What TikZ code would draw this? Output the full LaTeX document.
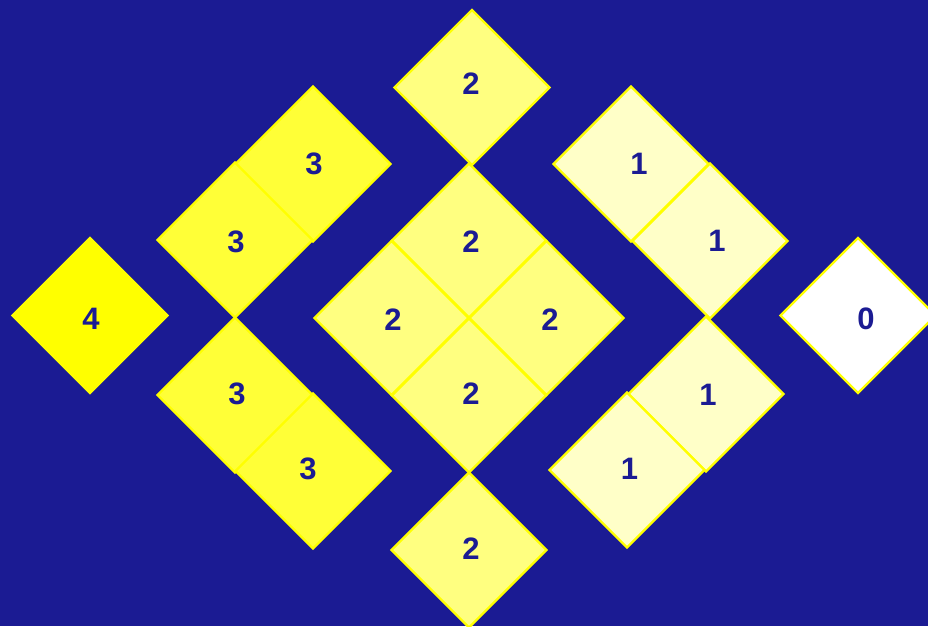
\documentclass[tikz,border=0pt]{standalone}
\usepackage{fontspec}
\setmainfont{Liberation Sans}
\usetikzlibrary{shapes.geometric}
\definecolor{navy}{RGB}{27,27,147}
\definecolor{ylw}{RGB}{255,255,0}
\definecolor{c3}{RGB}{255,255,55}
\definecolor{c2}{RGB}{255,255,128}
\definecolor{c1}{RGB}{255,255,200}
\tikzset{
  dia/.style={diamond, shape aspect=1, inner sep=0pt, outer sep=0pt,
    minimum width=155pt, minimum height=155pt, draw=ylw, line width=2.4pt},
  dsmall/.style={dia, minimum width=154pt, minimum height=154pt},
  num/.style={text=navy, font=\fontsize{31}{31}\selectfont\bfseries, inner sep=0pt}
}
\begin{document}
\begin{tikzpicture}[x=1pt,y=-1pt]
\fill[navy] (0,0) rectangle (928,626);
\useasboundingbox (0,0) rectangle (928,626);
% 4
\node[dia, fill=ylw] (d4) at (90,315.5) {};
% 3s
\node[dia, fill=c3] (d3a) at (313,164) {};
\node[dia, fill=c3] (d3b) at (235,240) {};
\node[dia, fill=c3] (d3c) at (235,395) {};
\node[dia, fill=c3] (d3d) at (313,471) {};
% 2s
\node[dia, fill=c2] (d2t) at (472,87.5) {};
\node[dia, fill=c2] (d2b) at (469,550) {};
\node[dsmall, fill=c2] (d2n) at (469,240.5) {};
\node[dsmall, fill=c2] (d2w) at (391.5,318) {};
\node[dsmall, fill=c2] (d2e) at (546.5,318) {};
\node[dsmall, fill=c2] (d2s) at (469,395.5) {};
% 1s
\node[dia, fill=c1] (d1a) at (631,164) {};
\node[dia, fill=c1] (d1b) at (710,241) {};
\node[dia, fill=c1] (d1c) at (706,394) {};
\node[dia, fill=c1] (d1d) at (627,470) {};
% 0
\node[dia, fill=white] (d0) at (858,315.5) {};
% labels
\node[num] (l4) at (91,319) {4};
\node[num] (l3a) at (314,164) {3};
\node[num] (l3b) at (236,242) {3};
\node[num] (l3c) at (237,394) {3};
\node[num] (l3d) at (308,469) {3};
\node[num] (l2t) at (471,84) {2};
\node[num] (l2n) at (471,242) {2};
\node[num] (l2w) at (393,319.5) {2};
\node[num] (l2e) at (550,320) {2};
\node[num] (l2s) at (471,394) {2};
\node[num] (l2b) at (471,549) {2};
\node[num] (l1a) at (639,163.5) {1};
\node[num] (l1b) at (717,241) {1};
\node[num] (l1c) at (708,394.5) {1};
\node[num] (l1d) at (629.5,468.7) {1};
\node[num] (l0) at (866,319) {0};
\end{tikzpicture}
\end{document}
